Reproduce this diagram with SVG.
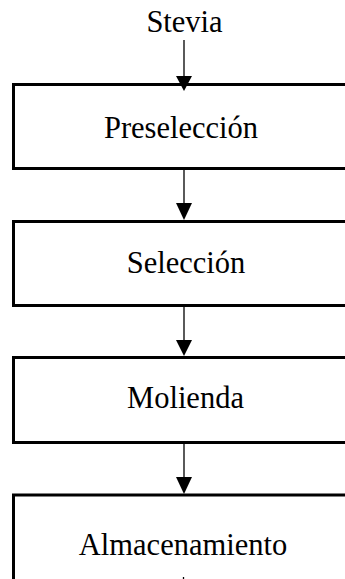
<svg xmlns="http://www.w3.org/2000/svg" width="345" height="579" viewBox="0 0 345 579">
<style>
.box{fill:#fff;stroke:#000;stroke-width:3}
.lbl{font-family:"Liberation Serif","Times New Roman",serif;font-size:30.5px;fill:#000;text-anchor:middle}
.conn line{stroke:#000;stroke-width:1.3}
.conn polygon{fill:#000}
</style>
<rect width="345" height="579" fill="#fff"/>
<g id="stevia"><text class="lbl" x="184.5" y="32">Stevia</text></g>
<g id="preseleccion"><rect class="box" x="13.5" y="84.5" width="345" height="84"/><text class="lbl" x="181" y="138">Preselección</text></g>
<g id="seleccion"><rect class="box" x="13.5" y="221.5" width="345" height="84"/><text class="lbl" x="186" y="273">Selección</text></g>
<g id="molienda"><rect class="box" x="13.5" y="357.5" width="345" height="85"/><text class="lbl" x="185.5" y="408">Molienda</text></g>
<g id="almacenamiento"><rect class="box" x="13.5" y="495" width="345" height="100"/><text class="lbl" x="183" y="555">Almacenamiento</text></g>
<g class="conn" id="connectors">
<line x1="184" y1="40" x2="184" y2="77"/><polygon points="176,76 192,76 184,91"/>
<line x1="184" y1="170" x2="184" y2="204"/><polygon points="176,203 192,203 184,220"/>
<line x1="184" y1="307" x2="184" y2="341"/><polygon points="176,340 192,340 184,356"/>
<line x1="184" y1="444" x2="184" y2="478"/><polygon points="176,477 192,477 184,494"/>
<line x1="183.5" y1="577" x2="183.5" y2="579"/>
</g>
</svg>
